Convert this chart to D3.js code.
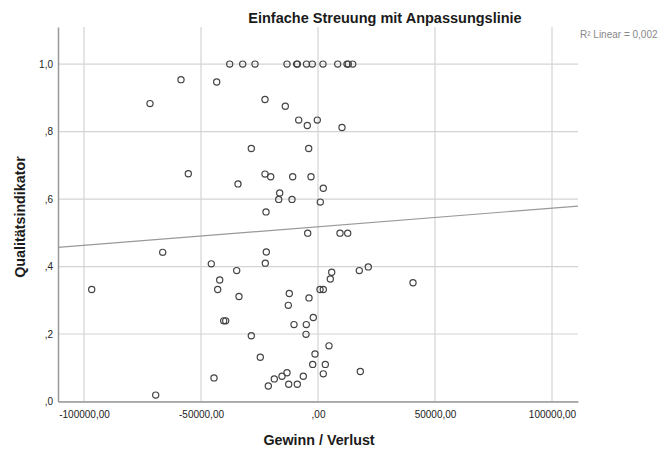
<!DOCTYPE html>
<html>
<head>
<meta charset="utf-8">
<script src="https://cdn.jsdelivr.net/npm/d3@7"></script>
<style>
  body { margin: 0; background: #fff; }
  svg { display: block; font-family: "Liberation Sans", Arial, sans-serif; }
</style>
</head>
<body>
<svg id="chart" width="672" height="452"></svg>
<script>
// values
var gewinn = [
  -37735, -32180, -26923, -13248, -9100, -8800, -4915, -2436, 2137, 8419, 12393, 12949, 14829,
  -58547, -43291, -71795, -22650, -13974, -8248, -4573, -299, 10256,
  -28504, -3974, -55427, -22650, -20214, -10812, -2991, 2265, -34188,
  -16368, -16795, -11111, 983, -22222,
  -4402, 9402, 12692, -66367, -22094, -45598, -22521, -34744, -42009,
  5855, 17650, 21496, 5256, 40598,
  -96709, -42863, -33761, -12265, -12692, -3846, 855, 2265,
  -40299, -39444, -2009, -10256, -5000, -5128, -28504,
  4701, -24658, -1282, -2265, 3120, 2265, 18077,
  -44444, -18675, -15385, -13248, -6282, -21239, -12521, -8846, -69359
];
var qualitaet = [
  1, 1, 1, 1, 1, 1, 1, 1, 1, 1, 1, 1, 1,
  0.954, 0.947, 0.883, 0.895, 0.875, 0.834, 0.818, 0.834, 0.812,
  0.750, 0.750, 0.675, 0.674, 0.666, 0.666, 0.666, 0.632, 0.645,
  0.618, 0.599, 0.599, 0.591, 0.562,
  0.499, 0.499, 0.499, 0.442, 0.443, 0.408, 0.410, 0.388, 0.360,
  0.383, 0.388, 0.399, 0.363, 0.352,
  0.332, 0.332, 0.311, 0.320, 0.285, 0.307, 0.332, 0.332,
  0.239, 0.239, 0.249, 0.228, 0.228, 0.199, 0.195,
  0.165, 0.131, 0.141, 0.110, 0.110, 0.082, 0.089,
  0.070, 0.067, 0.075, 0.085, 0.075, 0.046, 0.051, 0.051, 0.019
];
var xTicks = [-100000, -50000, 0, 50000, 100000];
var xTickLabels = ["-100000,00", "-50000,00", ",00", "50000,00", "100000,00"];
var yTicks = [0, 0.2, 0.4, 0.6, 0.8, 1.0];
var yTickLabels = [",0", ",2", ",4", ",6", ",8", "1,0"];
var fitIntercept = 0.518;
var fitSlope = 5.5e-7;
var rSquared = "0,002";

var margin = {top: 27, left: 58, right: 94, bottom: 50.5};
var width = 672 - margin.left - margin.right;
var height = 452 - margin.top - margin.bottom;

var svg = d3.select("#chart");
var g = svg.append("g").attr("transform", `translate(${margin.left},${margin.top})`);

var x = d3.scaleLinear().domain([-111111, 111111]).range([0, width]);
var y = d3.scaleLinear().domain([0, 1.11]).range([height, 0]);

// grid
g.append("g").selectAll("line").data(xTicks).join("line")
  .attr("x1", d => x(d)).attr("x2", d => x(d))
  .attr("y1", 0).attr("y2", height)
  .attr("stroke", "#d4d4d4").attr("stroke-width", 1.2);
g.append("g").selectAll("line").data(yTicks).join("line")
  .attr("x1", 0).attr("x2", width)
  .attr("y1", d => y(d)).attr("y2", d => y(d))
  .attr("stroke", "#d4d4d4").attr("stroke-width", 1.2);

// axes
var xAxis = g.append("g").attr("transform", `translate(0,${height})`)
  .call(d3.axisBottom(x).tickValues(xTicks).tickSize(0).tickPadding(9)
    .tickFormat((d, i) => xTickLabels[i]));
var yAxis = g.append("g")
  .call(d3.axisLeft(y).tickValues(yTicks).tickSize(0).tickPadding(5)
    .tickFormat((d, i) => yTickLabels[i]));
[xAxis, yAxis].forEach(a => {
  a.select(".domain").attr("stroke", "#999").attr("stroke-width", 1.5);
  a.selectAll("text").attr("font-size", 10).attr("fill", "#222")
    .attr("font-family", "'Liberation Sans', Arial, sans-serif");
});

// fit line
var xd = x.domain();
g.append("line")
  .attr("x1", x(xd[0])).attr("y1", y(fitIntercept + fitSlope * xd[0]))
  .attr("x2", x(xd[1])).attr("y2", y(fitIntercept + fitSlope * xd[1]))
  .attr("stroke", "#999").attr("stroke-width", 1.2);

// points
g.append("g").selectAll("circle").data(gewinn).join("circle")
  .attr("cx", d => x(d))
  .attr("cy", (d, i) => y(qualitaet[i]))
  .attr("r", 3.1)
  .attr("fill", "none")
  .attr("stroke", "#444")
  .attr("stroke-width", 1.2);

// texts
svg.append("text").attr("x", 385).attr("y", 22.5)
  .attr("text-anchor", "middle").attr("font-size", 14.5).attr("font-weight", "bold")
  .attr("fill", "#1a1a1a").text("Einfache Streuung mit Anpassungslinie");
svg.append("text").attr("x", 580).attr("y", 38)
  .attr("font-size", 10).attr("fill", "#888").text("R\u00b2 Linear = " + rSquared);
svg.append("text").attr("x", 319).attr("y", 445)
  .attr("text-anchor", "middle").attr("font-size", 14.3).attr("font-weight", "bold")
  .attr("fill", "#1a1a1a").text("Gewinn / Verlust");
svg.append("text").attr("transform", `translate(25,${217}) rotate(-90)`)
  .attr("text-anchor", "middle").attr("font-size", 14.3).attr("font-weight", "bold")
  .attr("fill", "#1a1a1a").text("Qualitätsindikator");
</script>
</body>
</html>
